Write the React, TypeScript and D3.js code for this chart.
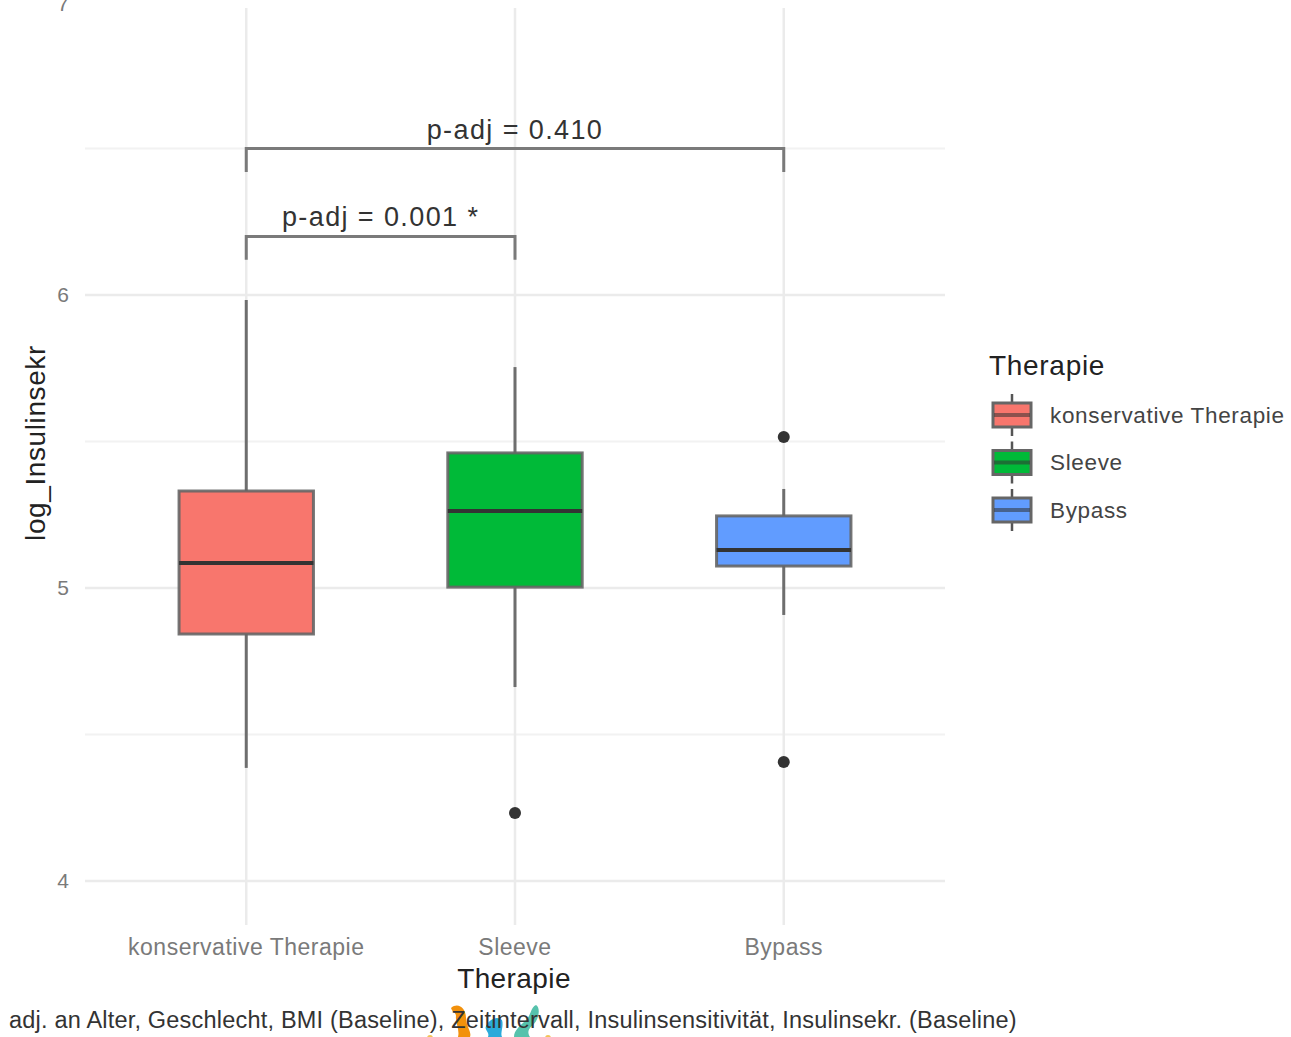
import React from "react";
import * as d3 from "d3";

const categories = ["konservative Therapie", "Sleeve", "Bypass"];
const colors = ["#F8766D", "#00BA38", "#619CFF"];
const whiskerLow = [4.386, 4.662, 4.908];
const q1 = [4.843, 5.003, 5.075];
const median = [5.085, 5.263, 5.130];
const q3 = [5.331, 5.461, 5.246];
const whiskerHigh = [5.983, 5.754, 5.338];
const outliers = [[], [4.232], [5.515, 4.406]];
const majorTicks = [4, 5, 6, 7];
const gridMajor = [4, 5, 6];
const minorTicks = [4.5, 5.5, 6.5];
const comparisons = [
  { from: 0, to: 2, y: 6.5, label: "p-adj = 0.410" },
  { from: 0, to: 1, y: 6.2, label: "p-adj = 0.001 *" },
];
const caption =
  "adj. an Alter, Geschlecht, BMI (Baseline), Zeitintervall, Insulinsensitivität, Insulinsekr. (Baseline)";

const W = 1291;
const H = 1037;
const FONT = "'Liberation Sans', Arial, Helvetica, sans-serif";

export default function App() {
  const y = d3.scaleLinear().domain([4, 6]).range([881, 295]);
  const x = d3.scalePoint<string>().domain(categories).range([85, 945]).padding(0.6);
  const step = x.step();
  const boxW = step * 0.5;
  const panelTop = 8;
  const panelBottom = y(3.85);
  const dropLen = y(6.2) - y(6.28);

  return (
    <svg
      width={W}
      height={H}
      style={{ position: "absolute", left: 0, top: 0, background: "#fff" }}
      fontFamily={FONT}
    >
      {/* grid */}
      {minorTicks.map((t) => (
        <line key={"mi" + t} x1={85} x2={945} y1={y(t)} y2={y(t)} stroke="#f2f2f2" strokeWidth={2} />
      ))}
      {gridMajor.map((t) => (
        <line key={"ma" + t} x1={85} x2={945} y1={y(t)} y2={y(t)} stroke="#ebebeb" strokeWidth={2.5} />
      ))}
      {categories.map((c) => (
        <line key={"vg" + c} x1={x(c)} x2={x(c)} y1={panelTop} y2={panelBottom} stroke="#ebebeb" strokeWidth={2.5} />
      ))}

      {/* y tick labels */}
      {majorTicks.map((t) => (
        <text key={"yt" + t} x={69} y={y(t) + (t === 7 ? 2 : 0)} dy="0.35em" textAnchor="end" fontSize={21} fill="#7a7a7a">
          {t}
        </text>
      ))}

      {/* boxes */}
      {categories.map((c, i) => {
        const cx = x(c)!;
        return (
          <g key={"box" + c}>
            <line x1={cx} x2={cx} y1={y(whiskerHigh[i])} y2={y(q3[i])} stroke="#6e6e6e" strokeWidth={3} />
            <line x1={cx} x2={cx} y1={y(q1[i])} y2={y(whiskerLow[i])} stroke="#6e6e6e" strokeWidth={3} />
            <rect
              x={cx - boxW / 2}
              y={y(q3[i])}
              width={boxW}
              height={y(q1[i]) - y(q3[i])}
              fill={colors[i]}
              stroke="#666"
              strokeOpacity={0.9}
              strokeWidth={3}
            />
            <line
              x1={cx - boxW / 2}
              x2={cx + boxW / 2}
              y1={y(median[i])}
              y2={y(median[i])}
              stroke="#333"
              strokeWidth={4}
            />
            {outliers[i].map((o, j) => (
              <circle key={j} cx={cx} cy={y(o)} r={6} fill="#333" />
            ))}
          </g>
        );
      })}

      {/* significance brackets */}
      {comparisons.map((cmp, k) => {
        const x1 = x(categories[cmp.from])!;
        const x2 = x(categories[cmp.to])!;
        const yy = y(cmp.y);
        return (
          <g key={"cmp" + k}>
            <path
              d={`M${x1},${yy + dropLen} L${x1},${yy} L${x2},${yy} L${x2},${yy + dropLen}`}
              fill="none"
              stroke="#7a7a7a"
              strokeWidth={3}
            />
            <text x={(x1 + x2) / 2} y={yy - 10} textAnchor="middle" fontSize={27} letterSpacing={1.4} fill="#333">
              {cmp.label}
            </text>
          </g>
        );
      })}

      {/* x tick labels */}
      {categories.map((c) => (
        <text key={"xt" + c} x={x(c)} y={955} textAnchor="middle" fontSize={23} letterSpacing={0.5} fill="#7a7a7a">
          {c}
        </text>
      ))}

      {/* axis titles */}
      <text x={514} y={988} textAnchor="middle" fontSize={28} letterSpacing={0.4} fill="#222">
        Therapie
      </text>
      <text
        transform={`translate(45,443) rotate(-90)`}
        textAnchor="middle"
        fontSize={28}
        letterSpacing={0.6}
        fill="#222"
      >
        log_Insulinsekr
      </text>

      {/* legend */}
      <text x={989} y={375} fontSize={28} letterSpacing={0.7} fill="#222">
        Therapie
      </text>
      {categories.map((c, i) => {
        const cy = 415 + i * 47.5;
        return (
          <g key={"lg" + c}>
            <line x1={1012} x2={1012} y1={cy - 21} y2={cy + 21} stroke="#555" strokeWidth={2.5} />
            <rect x={993} y={cy - 12} width={38} height={24} fill={colors[i]} stroke="#666" strokeWidth={3} />
            <line x1={994} x2={1030} y1={cy} y2={cy} stroke="#333" strokeOpacity={0.55} strokeWidth={4} />
            <text x={1050} y={cy} dy="0.35em" fontSize={22.5} letterSpacing={0.65} fill="#444">
              {c}
            </text>
          </g>
        );
      })}

      {/* logo fragment */}
      <g opacity={0.95}>
        <path d="M451,1008 C458,1002 466,1008 466,1018 C466,1026 472,1032 470,1037 L458,1037 C460,1030 455,1022 456,1016 C456,1012 452,1012 451,1008 Z" fill="#F28C00" />
        <path d="M486,1026 C490,1018 498,1016 502,1020 C504,1026 500,1033 502,1037 L488,1037 C490,1032 484,1030 486,1026 Z" fill="#1FA6D9" />
        <path d="M536,1005 C541,1008 539,1020 532,1026 C527,1030 528,1034 530,1037 L514,1037 C514,1030 520,1026 526,1020 C532,1014 530,1008 536,1005 Z" fill="#4DBFA8" />
        <circle cx={430} cy={1038} r={3} fill="#F2C14E" />
        <circle cx={548} cy={1038} r={3} fill="#F2C14E" />
      </g>

      {/* caption */}
      <text x={9} y={1028} fontSize={23.5} letterSpacing={0.2} fill="#333">
        {caption}
      </text>
    </svg>
  );
}
